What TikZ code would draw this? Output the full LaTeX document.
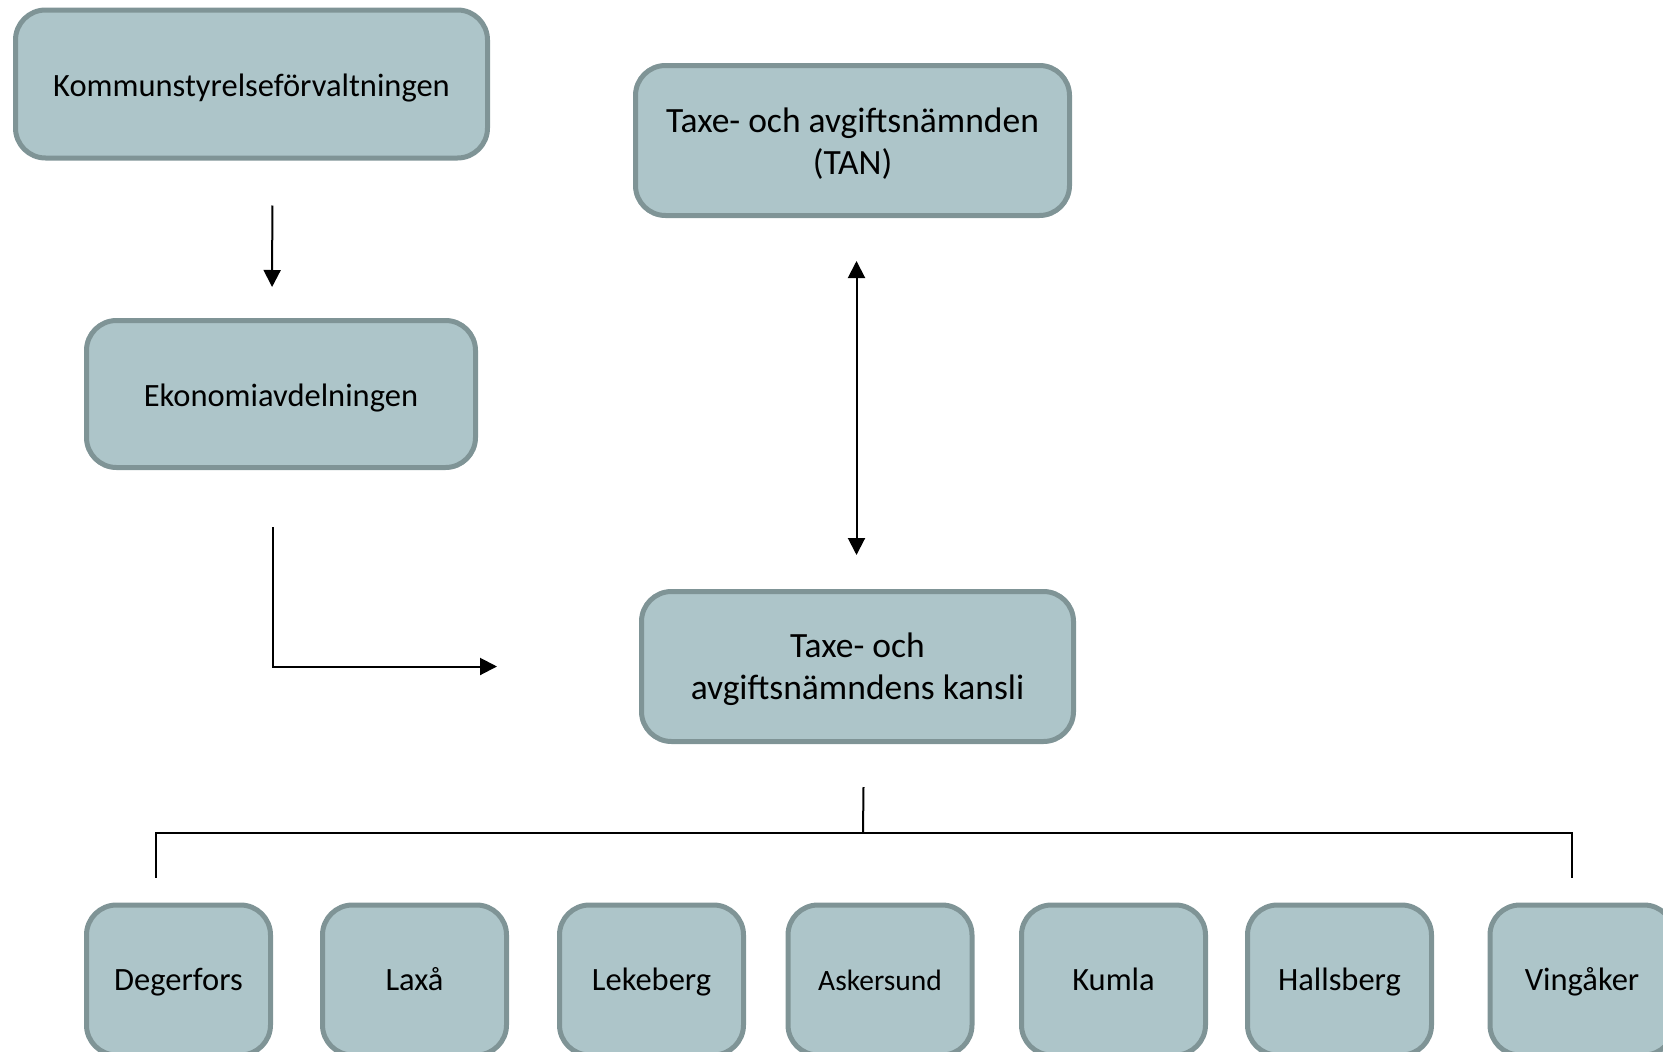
\documentclass[tikz,border=0pt]{standalone}
\usepackage{fontspec}
\setmainfont{Carlito}
\usepackage{tikz}
\usetikzlibrary{positioning, arrows.meta, calc}
\definecolor{boxfill}{RGB}{173,197,201}
\definecolor{boxline}{RGB}{127,148,150}
\newcommand{\boxstrut}{\rule{0pt}{31pt}}

\begin{document}
\begin{tikzpicture}[x=1pt, y=-1pt,
        box/.style={draw=boxline, fill=boxfill, line width=5pt, rounded corners=30pt,
            align=center, font=\fontsize{32.5}{42}\selectfont},
        twoline/.style={box, font=\fontsize{35.5}{42}\selectfont},
        kommun/.style={box, minimum width=184pt, minimum height=150pt, text height=27.5pt, text depth=7pt},
        arr/.style={line width=2pt, -{Triangle[length=17pt,width=17pt]}},
        biarr/.style={line width=2pt, {Triangle[length=17pt,width=17pt]}-{Triangle[length=17pt,width=17pt]}}]
        \useasboundingbox (0,0) rectangle (1663,1052);
        \clip (0,0) rectangle (1663,1052);

        \node[box, minimum width=472pt, minimum height=148pt] (ks) at (251.5, 84) {\boxstrut Kommunstyrelseförvaltningen};
        \node[twoline, minimum width=434pt, minimum height=150pt] (tan) at (852.5, 140.5) {\boxstrut Taxe- och avgiftsnämnden\\(TAN)};
        \node[box, minimum width=389pt, minimum height=147pt] (ek) at (281, 394) {\boxstrut Ekonomiavdelningen};
        \node[twoline, minimum width=432pt, minimum height=150pt] (kansli) at (857.5, 666.5) {\boxstrut Taxe- och\\avgiftsnämndens kansli};

        \node[kommun] (deg) at (178.5, 980) {Degerfors};
        \node[kommun] (lax) at (414.5, 980) {Laxå};
        \node[kommun] (lek) at (651.5, 980) {Lekeberg};
        \node[kommun, font=\fontsize{29.5}{36}\selectfont] (ask) at (880, 980) {Askersund};
        \node[kommun] (kum) at (1113.5, 980) {Kumla};
        \node[kommun] (hal) at (1339.5, 980) {Hallsberg};
        \node[kommun] (vin) at (1582, 980) {Vingåker};

        \coordinate (bus) at (863, 833);

        \draw[arr, shorten <=45pt, shorten >=31pt] ([xshift=21pt]ks.south) -- ([xshift=-9pt]ek.north);
        \draw[biarr, shorten <=43pt, shorten >=34pt] ([xshift=4pt]tan.south) -- ([xshift=-1pt]kansli.north);
        \draw[arr] ([xshift=-8pt, yshift=-57pt]ek.south) |- ([xshift=-142pt]kansli.west);

        \draw[line width=2pt] ([xshift=6pt, yshift=-43pt]kansli.south) -- (bus);
        \draw[line width=2pt] ([xshift=-23pt, yshift=25pt]deg.north) |- (bus)
            -| ([xshift=-10pt, yshift=25pt]vin.north);
    \end{tikzpicture}
\end{document}
